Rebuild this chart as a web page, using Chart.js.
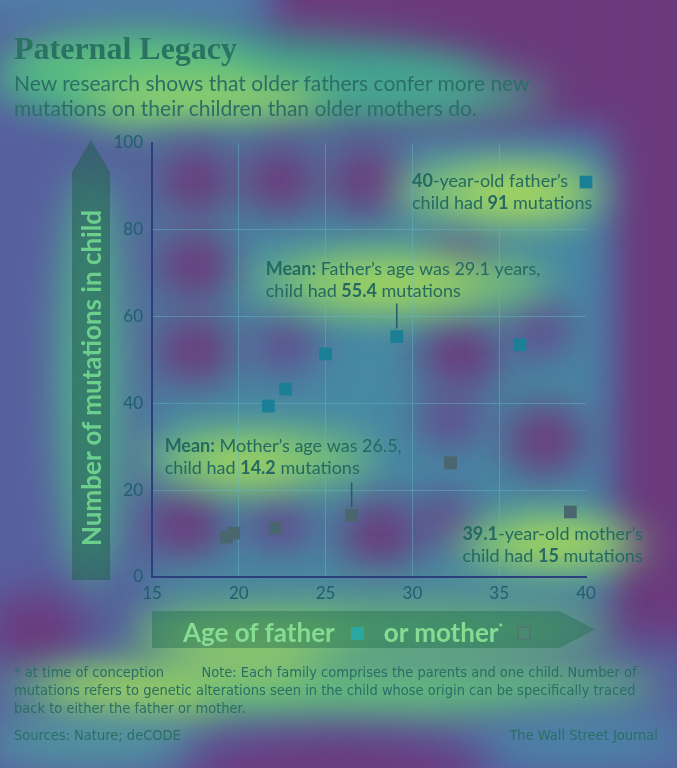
<!DOCTYPE html>
<html lang="en">
<head>
<meta charset="UTF-8">
<title>Paternal Legacy</title>
<script src="https://cdn.jsdelivr.net/npm/chart.js"></script>
<style>
  body { margin: 0; width: 677px; height: 768px; position: relative; overflow: hidden; background: #57609f; }
  #bg, #wrap { position: absolute; left: 0; top: 0; width: 677px; height: 768px; }
  .t { position: absolute; white-space: nowrap; }
  #title { left: 14px; top: 30px; font: bold 32px "Liberation Serif", serif; color: #2a7262; }
  #sub { left: 14px; top: 70px; font: 21px Lato, sans-serif; line-height: 25px; color: #2b6f66; }
  .foot { font: 14.5px "Liberation Sans Narrow", "DejaVu Sans Condensed", sans-serif; color: #2a6e66; }
  #yarrow { left: 72px; top: 140px; width: 38px; height: 440px; background: rgba(35,95,80,0.55);
    clip-path: polygon(50% 0, 100% 32px, 100% 100%, 0 100%, 0 32px); }
  #ytitle { left: 91px; top: 378px; transform: translate(-50%, -50%) rotate(-90deg);
    font: bold 26px Lato, sans-serif; color: #6cd08c; }
  #xarrow { left: 152px; top: 611px; width: 443px; height: 37px; background: rgba(35,110,80,0.45);
    clip-path: polygon(0 0, 92% 0, 100% 50%, 92% 100%, 0 100%); }
  #xtitle { left: 183px; top: 612px; font: bold 26px Lato, sans-serif; color: #86dc92; line-height: 32px; }
  .sq { display: inline-block; width: 13px; height: 13px; vertical-align: 2px; margin: 0 20px 0 16px; }
</style>
</head>
<body>
<canvas id="bg" width="677" height="768"></canvas>
<div id="wrap"><canvas id="chart"></canvas></div>

<div class="t" id="title">Paternal Legacy</div>
<div class="t" id="sub">New research shows that older fathers confer more new<br>mutations on their children than older mothers do.</div>
<div class="t" id="yarrow"></div>
<div class="t" id="ytitle">Number of mutations in child</div>
<div class="t" id="xarrow"></div>
<div class="t" id="xtitle">Age of father<span class="sq" style="background:#2aa8a0"></span>or mother<sup style="font-size:11px">*</sup><span class="sq" style="border:2px solid #4f7a74;width:10px;height:10px;background:rgba(80,140,115,0.5);margin-left:14px"></span></div>
<div class="t foot" style="left:14px; top:663px; line-height:18px">* at time of conception&nbsp;&nbsp;&nbsp;&nbsp;&nbsp;&nbsp;&nbsp;&nbsp;&nbsp;Note: Each family comprises the parents and one child. Number of<br>mutations refers to genetic alterations seen in the child whose origin can be specifically traced<br>back to either the father or mother.</div>
<div class="t foot" style="left:14px; top:727px">Sources: Nature; deCODE</div>
<div class="t foot" style="right:19px; top:727px">The Wall Street Journal</div>

<script>
// data
const fatherAge = [21.7, 22.7, 25.0, 29.1, 36.2, 40];
const fatherMut = [39.4, 43.3, 51.4, 55.4, 53.5, 91];
const motherAge = [19.3, 19.7, 22.1, 26.5, 32.2, 39.1];
const motherMut = [9.2, 10.1, 11.3, 14.2, 26.3, 15];
const xTicks = [15, 20, 25, 30, 35, 40];
const yTicks = [0, 20, 40, 60, 80, 100];

const noteFatherMax = ['**40**-year-old father\u2019s', 'child had **91** mutations'];
const noteFatherMean = ['**Mean:** Father\u2019s age was 29.1 years,', 'child had **55.4** mutations'];
const noteMotherMean = ['**Mean:** Mother\u2019s age was 26.5,', 'child had **14.2** mutations'];
const noteMotherMax = ['**39.1**-year-old mother\u2019s', 'child had **15** mutations'];

// soft background wash
(function () {
  const c = document.getElementById('bg').getContext('2d');
  c.fillStyle = '#57609f';
  c.fillRect(0, 0, 677, 768);
  c.filter = 'blur(20px)';
  function blob(x, y, rx, ry, col) {
    c.fillStyle = col; c.beginPath(); c.ellipse(x, y, rx, ry, 0, 0, Math.PI * 2); c.fill();
  }
  const purple = '#6b3a7d';
  c.fillStyle = purple; c.fillRect(270, -60, 500, 190); c.fillRect(608, -60, 120, 700);
  c.fillStyle = '#4f7fa8'; c.fillRect(-60, -60, 320, 85);
  blob(240, 80, 250, 45, '#3fa290');
  blob(130, 70, 125, 35, '#5cbf80');
  blob(210, 100, 130, 22, '#9ad468');
  blob(430, 95, 120, 22, '#4aa890');
  c.fillStyle = '#4789a4'; c.fillRect(150, 140, 455, 450);
  [[195, 180], [280, 180], [365, 180], [195, 265], [195, 350], [460, 355], [545, 440], [185, 525], [380, 535]]
    .forEach(p => blob(p[0], p[1], 40, 36, purple));
  [[285, 345], [450, 420], [280, 525], [445, 520], [540, 330], [460, 260]].forEach(p => blob(p[0], p[1], 32, 28, '#64468a'));
  blob(91, 380, 34, 210, '#4fae8c');
  blob(500, 192, 105, 26, '#8ed070'); blob(520, 195, 60, 14, '#b8dc50');
  blob(400, 282, 150, 28, '#7cc874'); blob(390, 285, 85, 14, '#b4da52');
  blob(260, 458, 115, 26, '#7cc874'); blob(245, 465, 60, 13, '#b4da52');
  blob(550, 545, 95, 26, '#86cc70'); blob(555, 545, 55, 13, '#b8dc50');
  c.fillStyle = '#4a9aa0'; c.fillRect(150, 583, 450, 20);
  blob(370, 630, 245, 26, '#62bc78'); blob(250, 640, 110, 16, '#8fd06a');
  blob(35, 630, 50, 38, purple);
  blob(330, 688, 330, 30, '#62bd7c'); blob(130, 695, 85, 18, '#b0d858'); blob(245, 664, 75, 13, '#a8d860');
  blob(90, 742, 110, 24, '#4f9aa0'); blob(585, 742, 110, 24, '#4a88a8');
  blob(335, 775, 150, 40, purple);
})();

function richLine(ctx, str, x, y) {
  str.split('**').forEach((part, k) => {
    ctx.font = (k % 2 ? 'bold ' : '') + '18px Lato, sans-serif';
    ctx.fillText(part, x, y);
    x += ctx.measureText(part).width;
  });
}

const notes = [
  { ds: 0, i: 5, lines: noteFatherMax, dx: -174, dy: -1, lead: false },
  { ds: 0, i: 3, lines: noteFatherMean, dx: -131, dy: -67, lead: true },
  { ds: 1, i: 3, lines: noteMotherMean, dx: -187, dy: -69, lead: true },
  { ds: 1, i: 5, lines: noteMotherMax, dx: -108, dy: 22, lead: false }
];

const notePlugin = {
  id: 'notes',
  afterDatasetsDraw(chart) {
    const ctx = chart.ctx;
    ctx.save();
    ctx.textBaseline = 'middle';
    ctx.textAlign = 'left';
    notes.forEach(n => {
      const pt = chart.getDatasetMeta(n.ds).data[n.i];
      ctx.fillStyle = '#246a62';
      n.lines.forEach((ln, k) => richLine(ctx, ln, pt.x + n.dx, pt.y + n.dy + k * 22));
      if (n.lead) {
        ctx.strokeStyle = '#2a5a66';
        ctx.lineWidth = 1.5;
        ctx.beginPath();
        ctx.moveTo(pt.x, pt.y - 33);
        ctx.lineTo(pt.x, pt.y - 8);
        ctx.stroke();
      }
    });
    ctx.restore();
  }
};

const gridCol = (edge) => (c) => edge.includes(c.tick.value) ? 'rgba(0,0,0,0)' : 'rgba(100,185,195,0.45)';

new Chart(document.getElementById('chart'), {
  type: 'scatter',
  data: {
    datasets: [
      { label: 'Father', data: fatherAge.map((a, i) => ({ x: a, y: fatherMut[i] })), clip: false,
        backgroundColor: '#1b7f95', borderWidth: 0, pointStyle: 'rect', pointRadius: 9, pointHoverRadius: 9 },
      { label: 'Mother', data: motherAge.map((a, i) => ({ x: a, y: motherMut[i] })), clip: false,
        backgroundColor: '#4a666e', borderWidth: 0, pointStyle: 'rect', pointRadius: 9, pointHoverRadius: 9 }
    ]
  },
  options: {
    responsive: true,
    maintainAspectRatio: false,
    animation: false,
    layout: { padding: { left: 112, right: 91, top: 143, bottom: 161 } },
    plugins: { legend: { display: false }, tooltip: { enabled: false } },
    scales: {
      x: {
        type: 'linear', min: 15, max: 40,
        afterBuildTicks: s => { s.ticks = xTicks.map(v => ({ value: v })); },
        afterFit: s => { s.height = 30; },
        ticks: { color: '#1f5f70', font: { family: 'Lato', size: 17 }, padding: 6 },
        grid: { color: gridCol([15, 40]), drawTicks: false },
        border: { color: '#2b3f7c', width: 2 }
      },
      y: {
        min: 0, max: 100,
        afterBuildTicks: s => { s.ticks = yTicks.map(v => ({ value: v })); },
        afterFit: s => { s.width = 40; },
        ticks: { color: '#1f5f70', font: { family: 'Lato', size: 17 }, padding: 9 },
        grid: { color: gridCol([0, 100]), drawTicks: false },
        border: { color: '#2b3f7c', width: 2 }
      }
    }
  },
  plugins: [notePlugin]
});
</script>
</body>
</html>
